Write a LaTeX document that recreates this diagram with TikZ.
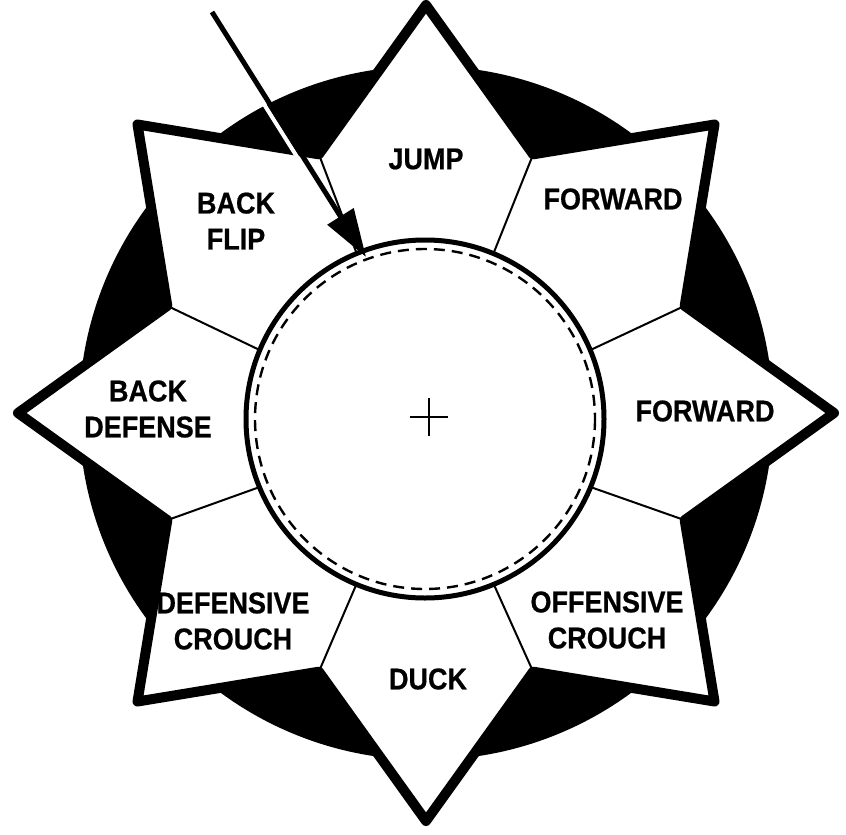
\documentclass[tikz,border=0pt]{standalone}
\usepackage{fontspec}
\newfontfamily\labfont[FakeStretch=0.9,FakeBold=0.6]{Liberation Sans}
\usetikzlibrary{arrows.meta,calc}
\begin{document}
\begin{tikzpicture}[x=1pt,y=-1pt,
  lab/.style={font=\labfont\bfseries\fontsize{30}{36}\selectfont, align=center, inner sep=0pt},
  starline/.style={line width=10pt, line join=round, draw=black, fill=white},
  spoke/.style={line width=2pt},
  ring/.style={line width=5pt, draw=black, fill=white},
  dashring/.style={line width=2.4pt, dash pattern=on 11pt off 7pt},
  crossline/.style={line width=1.8pt},
  shaft/.style={line width=5pt, -{Triangle[length=48pt,width=30pt]}},
  halo/.style={line width=4pt, white}
]
\useasboundingbox (0,0) rectangle (846,835);
\fill[white] (0,0) rectangle (846,835);
\coordinate (S) at (426,413);
\coordinate (C) at (425,419);
\coordinate (X) at (429,417);
\coordinate (A) at (212,12);
\coordinate (T) at (366,257);
% black disk
\fill[black] (S) circle[radius=347];
% star
\path[starline] ($(S)+(90:408)$)
  \foreach \a in {0,45,...,315} { -- ($(S)+({67.5-\a}:280)$) -- ($(S)+({45-\a}:408)$) } -- cycle;
% spokes
\foreach \a in {22.5,67.5,...,337.5} {
  \draw[spoke] ($(S)+(\a:280)$) -- ($(C)+(\a:170)$);
}
% inner circle
\path[ring] (C) circle[radius=179];
\draw[dashring] (C) circle[radius=170];
% cross
\draw[crossline] ($(X)+(-19,0)$) -- ($(X)+(19,0)$);
\draw[crossline] ($(X)+(0,-19)$) -- ($(X)+(0,19)$);
% labels
\node[lab] (jump) at (426,159) {JUMP};
\node[lab] (fwd1) at (613,199) {FORWARD};
\node[lab] (fwd2) at (705,411) {FORWARD};
\node[lab] (bflip) at (236,221) {BACK\\FLIP};
\node[lab] (bdef) at (148,409) {BACK\\DEFENSE};
\node[lab] (dcr) at (233,621) {DEFENSIVE\\CROUCH};
\node[lab] (ocr) at (607,620) {OFFENSIVE\\CROUCH};
\node[lab] (duck) at (428,679) {DUCK};
% arrow
\draw[halo] ($(A)+(-4.3,2.7)$) -- ($(A)!0.6!(T)+(-4.3,2.7)$);
\draw[shaft] (A) -- (T);
\end{tikzpicture}
\end{document}
